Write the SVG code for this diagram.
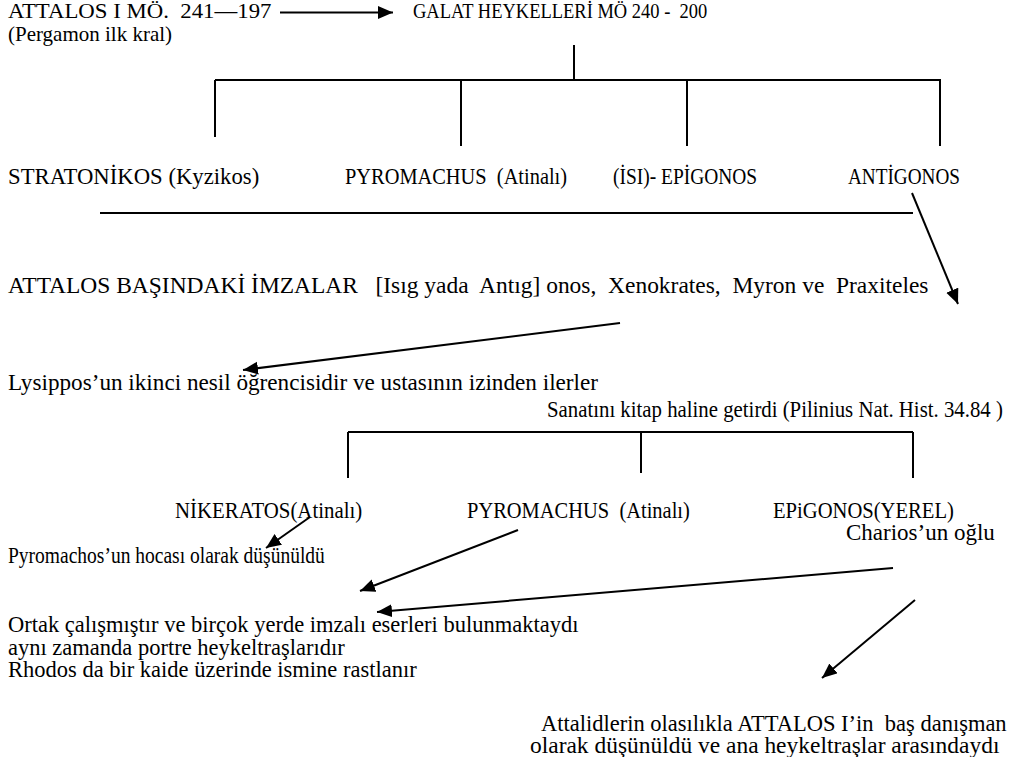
<svg xmlns="http://www.w3.org/2000/svg" width="1016" height="757" viewBox="0 0 1016 757"><style>
.ln{stroke:#000;stroke-width:2;fill:none}
.ar{stroke:#000;stroke-width:2;fill:none;marker-end:url(#ah)}
</style><defs><marker id="ah" markerUnits="userSpaceOnUse" markerWidth="16" markerHeight="14" refX="15" refY="6.5" orient="auto"><path d="M0,0 L15,6.5 L0,13 Z" fill="#000"/></marker></defs><rect width="1016" height="757" fill="#fff"/><g id="connectors"><line class="ar" x1="280" y1="12.5" x2="393" y2="12.5"/><path class="ln" d="M574,45 V80 M215,80 H941 M215,80 V137 M461,80 V146 M687,80 V146 M940,80 V146"/><line class="ln" x1="100" y1="213" x2="913" y2="213"/><line class="ar" x1="912" y1="193" x2="958" y2="304"/><line class="ar" x1="620" y1="323" x2="243" y2="370"/><path class="ln" d="M348,432 H913 M348,432 V478 M641,432 V473 M913,432 V478"/><line class="ar" x1="310" y1="517" x2="266" y2="548"/><line class="ar" x1="518" y1="530" x2="360" y2="591"/><line class="ar" x1="893" y1="568" x2="377" y2="612"/><line class="ar" x1="915" y1="600" x2="822" y2="678"/></g><g id="attalos"><text font-family="'Liberation Serif', serif" font-size="21" transform="translate(8,18) scale(1.086,1)">ATTALOS I MÖ.&#160; 241—197</text><text font-family="'Liberation Serif', serif" font-size="21" x="8" y="41">(Pergamon ilk kral)</text></g><g id="galat"><text font-family="'Liberation Serif', serif" font-size="21" transform="translate(413,18) scale(0.881,1)">GALAT HEYKELLERİ MÖ 240 -&#160; 200</text></g><g id="stratonikos"><text font-family="'Liberation Serif', serif" font-size="24" transform="translate(8,184) scale(0.946,1)">STRATONİKOS (Kyzikos)</text></g><g id="pyromachus1"><text font-family="'Liberation Serif', serif" font-size="24" transform="translate(345,184) scale(0.85,1)">PYROMACHUS&#160; (Atinalı)</text></g><g id="isi-epigonos"><text font-family="'Liberation Serif', serif" font-size="24" transform="translate(613,184) scale(0.81,1)">(İSI)- EPİGONOS</text></g><g id="antigonos"><text font-family="'Liberation Serif', serif" font-size="24" transform="translate(848,184) scale(0.8,1)">ANTİGONOS</text></g><g id="imzalar"><text font-family="'Liberation Serif', serif" font-size="24" transform="translate(8,293) scale(0.978,1)">ATTALOS BAŞINDAKİ İMZALAR&#160;&#160; [Isıg yada&#160; Antıg] onos,&#160; Xenokrates,&#160; Myron ve&#160; Praxiteles</text></g><g id="lysippos"><text font-family="'Liberation Serif', serif" font-size="24" transform="translate(8,390) scale(0.966,1)">Lysippos’un ikinci nesil öğrencisidir ve ustasının izinden ilerler</text></g><g id="sanatini"><text font-family="'Liberation Serif', serif" font-size="24" transform="translate(547,417) scale(0.867,1)">Sanatını kitap haline getirdi (Pilinius Nat. Hist. 34.84 )</text></g><g id="nikeratos"><text font-family="'Liberation Serif', serif" font-size="24" transform="translate(175,518) scale(0.869,1)">NİKERATOS(Atinalı)</text></g><g id="pyromachus2"><text font-family="'Liberation Serif', serif" font-size="24" transform="translate(467,518) scale(0.853,1)">PYROMACHUS&#160; (Atinalı)</text></g><g id="epigonos"><text font-family="'Liberation Serif', serif" font-size="24" transform="translate(773,518) scale(0.859,1)">EPiGONOS(YEREL)</text></g><g id="charios"><text font-family="'Liberation Serif', serif" font-size="23" transform="translate(846,540) scale(1.0,1)">Charios’un oğlu</text></g><g id="pyromachos-hoca"><text font-family="'Liberation Serif', serif" font-size="24" transform="translate(8,563) scale(0.813,1)">Pyromachos’un hocası olarak düşünüldü</text></g><g id="ortak"><text font-family="'Liberation Serif', serif" font-size="22.5" x="8" y="632">Ortak çalışmıştır ve birçok yerde imzalı eserleri bulunmaktaydı</text><text font-family="'Liberation Serif', serif" font-size="22.5" x="8" y="655">aynı zamanda portre heykeltraşlarıdır</text><text font-family="'Liberation Serif', serif" font-size="22.5" x="8" y="677">Rhodos da bir kaide üzerinde ismine rastlanır</text></g><g id="attalidler"><text font-family="'Liberation Serif', serif" font-size="22.5" x="541" y="731">Attalidlerin olasılıkla ATTALOS I’in&#160; baş danışman</text><text font-family="'Liberation Serif', serif" font-size="22.5" transform="translate(530,753) scale(1.043,1)">olarak düşünüldü ve ana heykeltraşlar arasındaydı</text></g></svg>
